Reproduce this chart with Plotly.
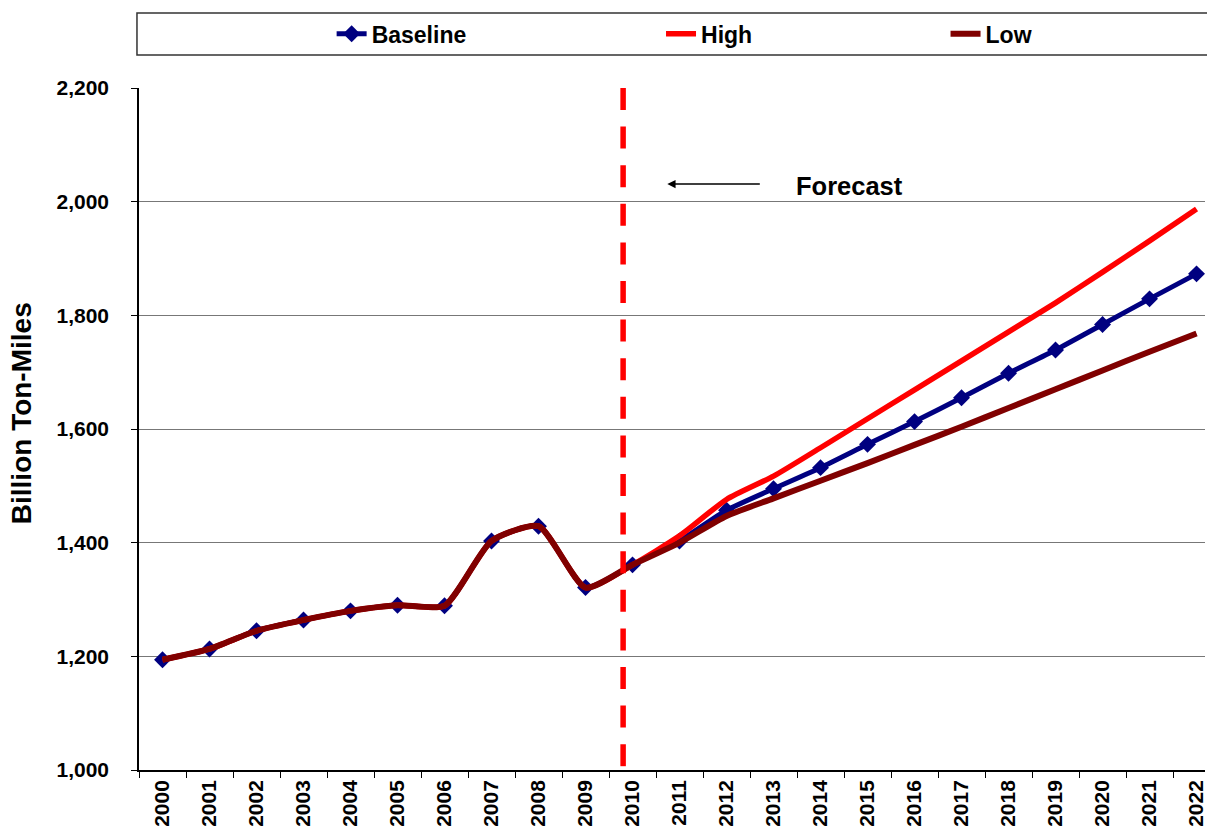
import plotly.graph_objects as go

# Annual freight volume, billion ton-miles
years = [str(y) for y in range(2000, 2023)]
history = [1194, 1213, 1245, 1264, 1280, 1290, 1289, 1403, 1429, 1321]
baseline_forecast = [1361, 1403, 1457, 1495, 1532, 1573, 1613, 1655, 1698, 1739, 1784, 1829, 1873]
high_forecast = [1361, 1412, 1476, 1517, 1567, 1618, 1669, 1720, 1771, 1822, 1876, 1931, 1987]
low_forecast = [1361, 1400, 1447, 1478, 1509, 1540, 1572, 1604, 1637, 1670, 1703, 1736, 1768]

baseline = history + baseline_forecast
high = history + high_forecast
low = history + low_forecast

forecast_split = 9.8  # category position of the forecast divider (just before 2010)

FONT = "Liberation Sans, Arial, sans-serif"
NAVY = "#000080"
RED = "#FF0000"
MAROON = "#800000"

fig = go.Figure()
fig.add_trace(go.Scatter(
    x=years, y=baseline, name="Baseline", mode="lines+markers",
    line=dict(color=NAVY, width=5, shape="spline", smoothing=0.6),
    marker=dict(symbol="diamond", size=13, color=NAVY),
    legend="legend",
))
fig.add_trace(go.Scatter(
    x=years, y=high, name="High", mode="lines",
    line=dict(color=RED, width=5.5, shape="spline", smoothing=0.6),
    legend="legend2",
))
fig.add_trace(go.Scatter(
    x=years, y=low, name="Low", mode="lines",
    line=dict(color=MAROON, width=6, shape="spline", smoothing=0.6),
    legend="legend3",
))

legend_common = dict(
    orientation="h", yanchor="middle", y=1.0795, xanchor="left",
    bgcolor="rgba(0,0,0,0)", borderwidth=0,
    font=dict(family=FONT, size=23, color="black", weight="bold"),
)

fig.update_layout(
    width=1207, height=831,
    margin=dict(l=139, r=0, t=88, b=61),
    paper_bgcolor="white", plot_bgcolor="white",
    font=dict(family=FONT, color="black"),
    showlegend=True,
    legend=dict(x=0.1807, **legend_common),
    legend2=dict(x=0.4897, **legend_common),
    legend3=dict(x=0.7566, **legend_common),
    xaxis=dict(
        type="category", range=[-0.5, 22.18],
        showgrid=False, showline=True, linecolor="black", linewidth=1.5,
        ticks="outside", tickson="boundaries", ticklen=6, tickcolor="black",
        tickangle=-90, tickfont=dict(family=FONT, size=21, weight="bold"),
        zeroline=False,
    ),
    yaxis=dict(
        range=[1000, 2200], dtick=200, tickformat=",",
        showgrid=True, gridcolor="#777777", gridwidth=1,
        showline=True, linecolor="black", linewidth=1.5,
        ticks="outside", ticklen=6, tickcolor="black",
        ticklabelstandoff=18,
        tickfont=dict(family=FONT, size=21, weight="bold"),
        zeroline=False,
    ),
    shapes=[
        # legend frame
        dict(type="rect", xref="paper", yref="paper",
             x0=-0.0019, x1=1.01, y0=1.0484, y1=1.11,
             line=dict(color="#333333", width=1.5), fillcolor="white", layer="below"),
        # forecast divider
        dict(type="line", xref="x", yref="y",
             x0=forecast_split, x1=forecast_split, y0=2200, y1=1000,
             line=dict(color=RED, width=5.5, dash="22px,16.6px")),
    ],
    annotations=[
        dict(text="Billion Ton-Miles", textangle=-90, xref="paper", yref="paper",
             x=(22 - 139) / 1068, y=0.5235, xanchor="center", yanchor="middle",
             showarrow=False, font=dict(family=FONT, size=28, weight="bold")),
        dict(text="", xref="x", yref="y", x=10.74, y=2031,
             axref="x", ayref="y", ax=12.74, ay=2031,
             showarrow=True, arrowhead=2, arrowsize=1.1, arrowwidth=1.5, arrowcolor="black"),
        dict(text="Forecast", xref="x", yref="y", x=13.44, y=2028,
             xanchor="left", yanchor="middle", showarrow=False,
             font=dict(family=FONT, size=25.5, weight="bold")),
    ],
)

fig.write_html("out.html")
